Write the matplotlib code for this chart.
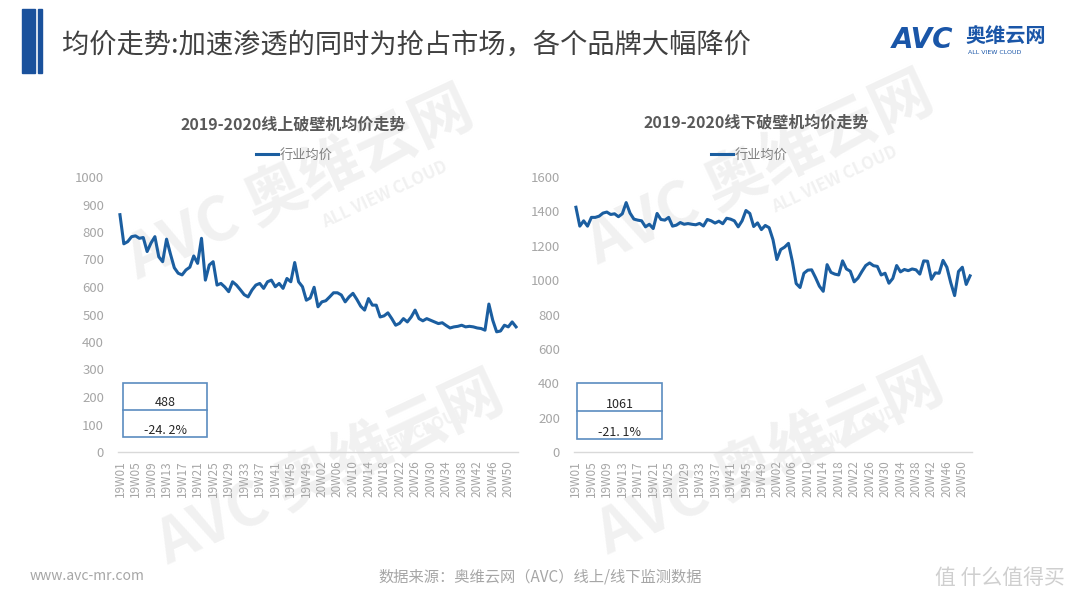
import matplotlib.pyplot as plt
from matplotlib.patches import Rectangle

plt.rcParams['font.family'] = ['Noto Sans CJK SC', 'DejaVu Sans']

# week labels: 2019 runs to W51, 2020 to W52
weeks = [f"19W{w:02d}" for w in range(1, 52)] + [f"20W{w:02d}" for w in range(1, 53)]

online_price = [863, 757, 765, 783, 786, 777, 780, 729, 760, 783,
                710, 692, 774, 720, 670, 650, 644, 662, 672, 713,
                686, 777, 625, 680, 692, 607, 613, 600, 583, 619,
                607, 590, 572, 564, 589, 607, 613, 595, 619, 625,
                601, 613, 595, 631, 619, 689, 619, 601, 552, 560,
                599, 528, 546, 550, 564, 579, 579, 571, 546, 564,
                577, 555, 530, 516, 558, 534, 534, 491, 495, 506,
                485, 461, 468, 485, 473, 491, 516, 485, 477, 485,
                479, 473, 467, 470, 460, 451, 455, 457, 461, 455,
                457, 455, 451, 449, 443, 538, 479, 437, 440, 461,
                455, 473, 455]

offline_price = [1424, 1314, 1345, 1314, 1365, 1365, 1372, 1390, 1396, 1382,
                 1386, 1369, 1386, 1451, 1390, 1355, 1349, 1345, 1310, 1325,
                 1300, 1388, 1353, 1349, 1365, 1314, 1320, 1335, 1325, 1329,
                 1325, 1322, 1330, 1315, 1353, 1345, 1332, 1343, 1328, 1360,
                 1355, 1345, 1310, 1345, 1405, 1388, 1312, 1333, 1294, 1318,
                 1305, 1235, 1120, 1178, 1192, 1214, 1110, 980, 957, 1040,
                 1058, 1060, 1015, 965, 935, 1090, 1045, 1035, 1030, 1112,
                 1065, 1052, 990, 1012, 1050, 1085, 1100, 1084, 1080, 1030,
                 1040, 982, 1010, 1085, 1048, 1062, 1055, 1065, 1060, 1035,
                 1112, 1110, 1005, 1042, 1040, 1115, 1075, 985, 910, 1050,
                 1075, 975, 1025]

titles = ['2019-2020线上破壁机均价走势', '2019-2020线下破壁机均价走势']
box_values = ['488', '1061']
box_changes = ['-24. 2%', '-21. 1%']
series_name = '行业均价'

W, H = 1080, 608
fig = plt.figure(figsize=(W / 100, H / 100), dpi=100)
fig.patch.set_facecolor('white')


def fx(px):
    return px / W


def fy(py):
    return 1 - py / H


# faint watermarks, kept behind the axes
for (x, y) in [(300, 185), (760, 170), (330, 470), (770, 460)]:
    fig.text(fx(x), fy(y), 'AVC 奥维云网', fontsize=44, fontweight='bold', color='#f1f1f1',
             rotation=25, ha='center', va='center', zorder=-5)
for (x, y) in [(385, 195), (835, 180), (405, 440), (835, 440)]:
    fig.text(fx(x), fy(y), 'ALL VIEW CLOUD', fontsize=12, fontweight='bold', color='#f1f1f1',
             rotation=25, ha='center', va='center', zorder=-5)

# header
fig.patches.append(Rectangle((fx(22), fy(73)), fx(13), 64 / H, transform=fig.transFigure,
                             color='#1a519c', zorder=2))
fig.patches.append(Rectangle((fx(38), fy(73)), fx(4), 64 / H, transform=fig.transFigure,
                             color='#1a519c', zorder=2))
fig.text(fx(62), fy(45), '均价走势:加速渗透的同时为抢占市场，各个品牌大幅降价',
         fontsize=19.6, color='#404040', ha='left', va='center')
fig.text(fx(892), fy(40), 'AVC', fontsize=20, fontweight='bold', fontstyle='italic',
         color='#1a56a8', ha='left', va='center', family='DejaVu Sans')
fig.text(fx(965), fy(36), '奥维云网', fontsize=14.5, fontweight='bold',
         color='#1a56a8', ha='left', va='center')
fig.text(fx(968), fy(53), 'ALL VIEW CLOUD', fontsize=4.5,
         color='#1a56a8', ha='left', va='center', family='DejaVu Sans')

# footer
fig.text(fx(30), fy(576), 'www.avc-mr.com', fontsize=10, color='#a6a6a6',
         ha='left', va='center')
fig.text(fx(540), fy(577), '数据来源：奥维云网（AVC）线上/线下监测数据', fontsize=11,
         color='#a6a6a6', ha='center', va='center')
fig.text(fx(1000), fy(578), '值 什么值得买', fontsize=15, color='#cfcfcf',
         ha='center', va='center')

panels = [
    dict(rect=(118, 518), data=online_price, ymax=1000, step=100, title_x=293, title_y=125,
         box=(123, 207, 383, 437, 410)),
    dict(rect=(574, 972), data=offline_price, ymax=1600, step=200, title_x=756, title_y=123,
         box=(577, 662, 383, 439, 411)),
]

for i, p in enumerate(panels):
    x0, x1 = p['rect']
    ax = fig.add_axes([fx(x0), fy(452), (x1 - x0) / W, 275 / H])
    ax.set_facecolor('none')
    ax.plot(range(len(weeks)), p['data'], color='#1b5ea0', linewidth=2.2,
            solid_joinstyle='round', label=series_name, zorder=3)
    ax.set_xlim(-0.5, len(weeks) - 0.5)
    ax.set_ylim(0, p['ymax'])
    ax.set_yticks(range(0, p['ymax'] + 1, p['step']))
    ax.set_xticks(range(0, len(weeks), 4))
    ax.set_xticklabels(weeks[::4], rotation=90, fontsize=8.5, color='#a6a6a6')
    ax.tick_params(axis='y', length=0, pad=10, labelsize=9.5, labelcolor='#a6a6a6')
    ax.tick_params(axis='x', length=0, pad=6)
    for s in ['top', 'right', 'left']:
        ax.spines[s].set_visible(False)
    ax.spines['bottom'].set_color('#d9d9d9')
    ax.spines['bottom'].set_linewidth(1)

    ax.legend(loc='center', bbox_to_anchor=(0.44, 1.08), frameon=False,
              fontsize=9.5, handlelength=1.7, handletextpad=0.1, labelcolor='#808080')

    fig.text(fx(p['title_x']), fy(p['title_y']), titles[i], fontsize=11.5, fontweight='bold',
             color='#595959', ha='center', va='center')

    bx0, bx1, by0, by1, bmid = p['box']
    fig.patches.append(Rectangle((fx(bx0), fy(by1)), (bx1 - bx0) / W, (by1 - by0) / H,
                                 transform=fig.transFigure, fill=False,
                                 edgecolor='#5b8cc0', linewidth=1.2, zorder=4))
    fig.lines.append(plt.Line2D([fx(bx0), fx(bx1)], [fy(bmid), fy(bmid)],
                                transform=fig.transFigure, color='#5b8cc0', linewidth=1.2))
    fig.text(fx((bx0 + bx1) / 2), fy(bmid - 7), box_values[i], fontsize=9, color='#262626',
             ha='center', va='center')
    fig.text(fx((bx0 + bx1) / 2), fy(by1 - 7), box_changes[i], fontsize=9, color='#262626',
             ha='center', va='center')

fig.savefig('out.png', dpi=100)
